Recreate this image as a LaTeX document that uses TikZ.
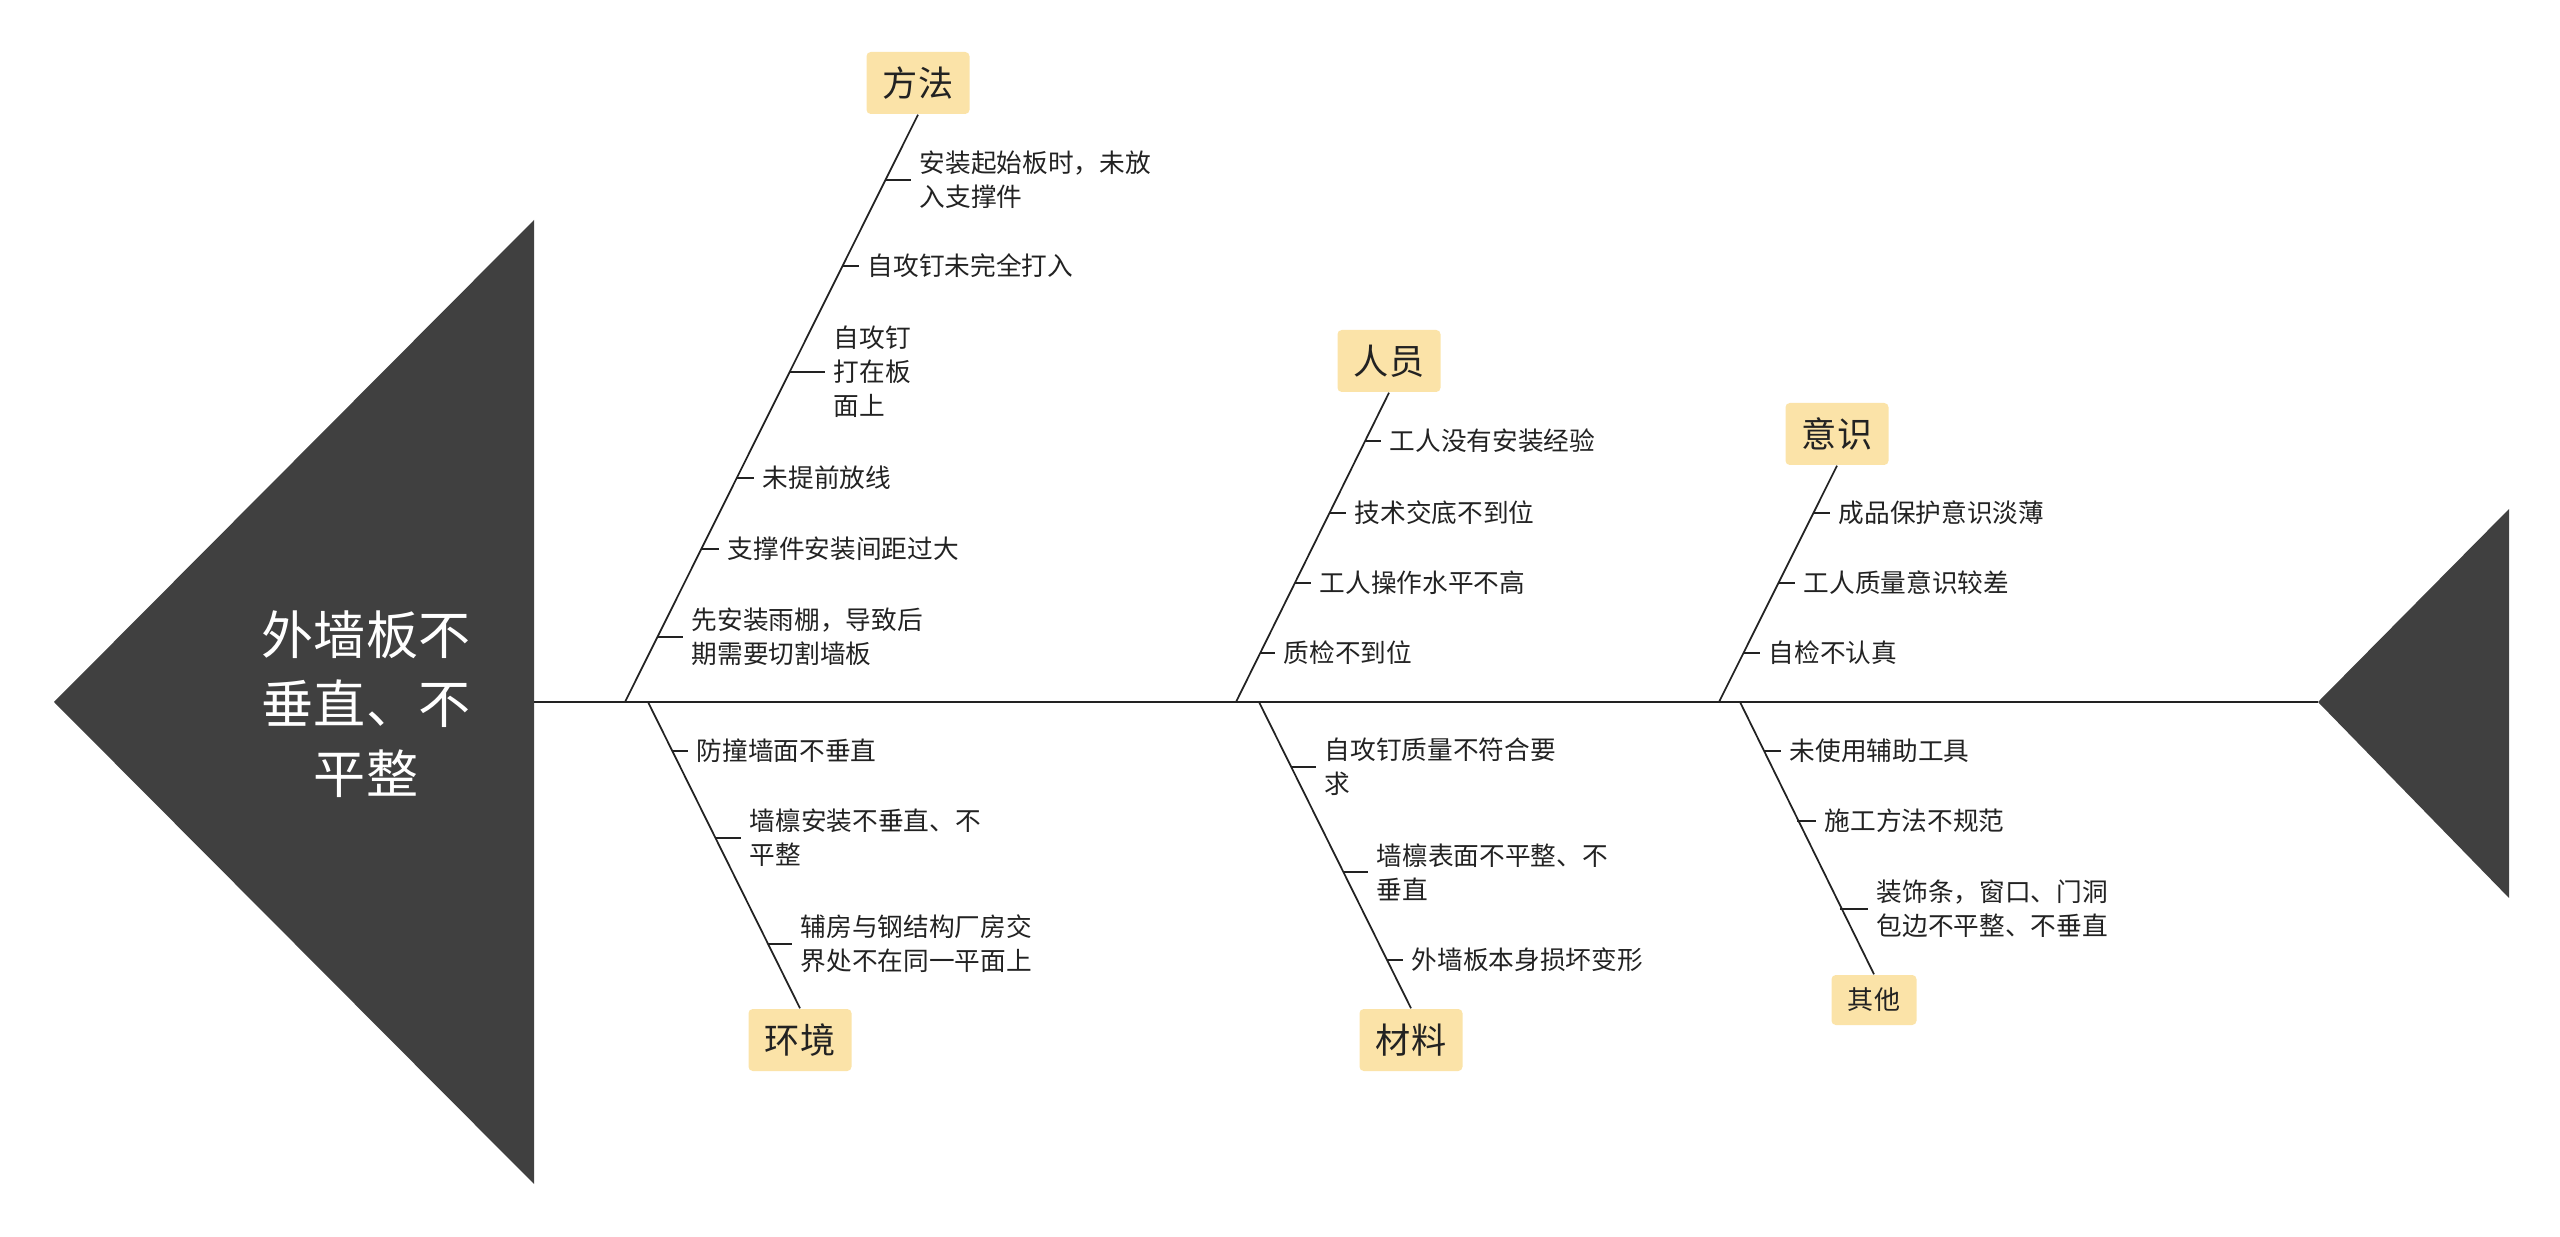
\documentclass[tikz,border=0pt]{standalone}
\usepackage{fontspec}
\setmainfont{Noto Sans CJK SC}
\usetikzlibrary{calc}
\definecolor{headgray}{HTML}{404040}
\definecolor{catfill}{HTML}{FBE3A8}
\definecolor{txt}{HTML}{222222}
\tikzset{
  spine/.style={line width=0.8pt, draw=txt},
  bone/.style={line width=0.5pt, draw=txt},
  tick/.style={line width=0.45pt, draw=txt, shorten >=8*0.01cm},
  cat/.style={fill=catfill, rounded corners=1.2pt, inner sep=0pt, minimum width=103*0.01cm, minimum height=62*0.01cm, font=\fontsize{10}{12}\selectfont, text=txt},
  smallcat/.style={cat, minimum width=85*0.01cm, minimum height=50*0.01cm, font=\fontsize{7.4}{9}\selectfont},
  item/.style={anchor=west, inner sep=0pt, align=left, font=\fontsize{7.3}{9.7}\selectfont, text=txt},
  headtxt/.style={align=center, text=white, inner sep=0pt, font=\fontsize{14.8}{19.7}\selectfont}
}
\begin{document}
\begin{tikzpicture}[x=0.01cm, y=-0.01cm]
\useasboundingbox (0,0) rectangle (2560,1237);
% head and tail
\fill[headgray] (54,702) -- (534,220) -- (534,1184) -- cycle;
\fill[headgray] (2318,702) -- (2509,509) -- (2509,898) -- cycle;
\node[headtxt] (head) at (366,704) {外墙板不\\垂直、不\\平整};
\coordinate (sL) at (534,702);
\coordinate (sR) at (2318,702);
\draw[spine] (sL) -- (sR);

% ---- 方法 ----
\node[cat] (c1) at (918,83) {方法};
\coordinate (b1) at (625,702);
\draw[bone] (b1) -- (c1.south);
\coordinate (p11) at (885.1,180);
\coordinate (p12) at (842.3,266);
\coordinate (p13) at (789.4,372);
\coordinate (p14) at (736.6,478);
\coordinate (p15) at (701.2,549);
\coordinate (p16) at (657.4,637);
\node[item] (t11) at (919,180) {安装起始板时，未放\\入支撑件};
\node[item] (t12) at (867,266) {自攻钉未完全打入};
\node[item] (t13) at (833,372) {自攻钉\\打在板\\面上};
\node[item] (t14) at (762,478) {未提前放线};
\node[item] (t15) at (727,549) {支撑件安装间距过大};
\node[item] (t16) at (691,637) {先安装雨棚，导致后\\期需要切割墙板};
\foreach \i in {1,...,6} {\draw[tick] (p1\i) -- (t1\i.west);}

% ---- 人员 ----
\node[cat] (c2) at (1389,361) {人员};
\coordinate (b2) at (1236,702);
\draw[bone] (b2) -- (c2.south);
\coordinate (p21) at (1364.8,441);
\coordinate (p22) at (1329.3,513);
\coordinate (p23) at (1294.7,583);
\coordinate (p24) at (1260.2,653);
\node[item] (t21) at (1389,441) {工人没有安装经验};
\node[item] (t22) at (1354,513) {技术交底不到位};
\node[item] (t23) at (1319,583) {工人操作水平不高};
\node[item] (t24) at (1283,653) {质检不到位};
\foreach \i in {1,...,4} {\draw[tick] (p2\i) -- (t2\i.west);}

% ---- 意识 ----
\node[cat] (c3) at (1837,434) {意识};
\coordinate (b3) at (1719,702);
\draw[bone] (b3) -- (c3.south);
\coordinate (p31) at (1813.1,513);
\coordinate (p32) at (1778.2,583);
\coordinate (p33) at (1743.4,653);
\node[item] (t31) at (1838,513) {成品保护意识淡薄};
\node[item] (t32) at (1803,583) {工人质量意识较差};
\node[item] (t33) at (1768,653) {自检不认真};
\foreach \i in {1,...,3} {\draw[tick] (p3\i) -- (t3\i.west);}

% ---- 环境 ----
\node[cat] (c4) at (800,1040) {环境};
\coordinate (b4) at (648,702);
\draw[bone] (b4) -- (c4.north);
\coordinate (p41) at (672.3,751);
\coordinate (p42) at (715.3,838);
\coordinate (p43) at (767.8,944);
\node[item] (t41) at (696,751) {防撞墙面不垂直};
\node[item] (t42) at (749,838) {墙檩安装不垂直、不\\平整};
\node[item] (t43) at (800,944) {辅房与钢结构厂房交\\界处不在同一平面上};
\foreach \i in {1,...,3} {\draw[tick] (p4\i) -- (t4\i.west);}

% ---- 材料 ----
\node[cat] (c5) at (1411,1040) {材料};
\coordinate (b5) at (1259,702);
\draw[bone] (b5) -- (c5.north);
\coordinate (p51) at (1291.2,767);
\coordinate (p52) at (1343.2,872);
\coordinate (p53) at (1386.7,960);
\node[item] (t51) at (1324,767) {自攻钉质量不符合要\\求};
\node[item] (t52) at (1376,872) {墙檩表面不平整、不\\垂直};
\node[item] (t53) at (1411,960) {外墙板本身损坏变形};
\foreach \i in {1,...,3} {\draw[tick] (p5\i) -- (t5\i.west);}

% ---- 其他 ----
\node[smallcat] (c6) at (1874,1000) {其他};
\coordinate (b6) at (1740,702);
\draw[bone] (b6) -- (c6.north);
\coordinate (p61) at (1763.6,751);
\coordinate (p62) at (1797.4,821);
\coordinate (p63) at (1839.8,909);
\node[item] (t61) at (1789,751) {未使用辅助工具};
\node[item] (t62) at (1824,821) {施工方法不规范};
\node[item] (t63) at (1876,909) {装饰条，窗口、门洞\\包边不平整、不垂直};
\foreach \i in {1,...,3} {\draw[tick] (p6\i) -- (t6\i.west);}
\end{tikzpicture}
\end{document}
